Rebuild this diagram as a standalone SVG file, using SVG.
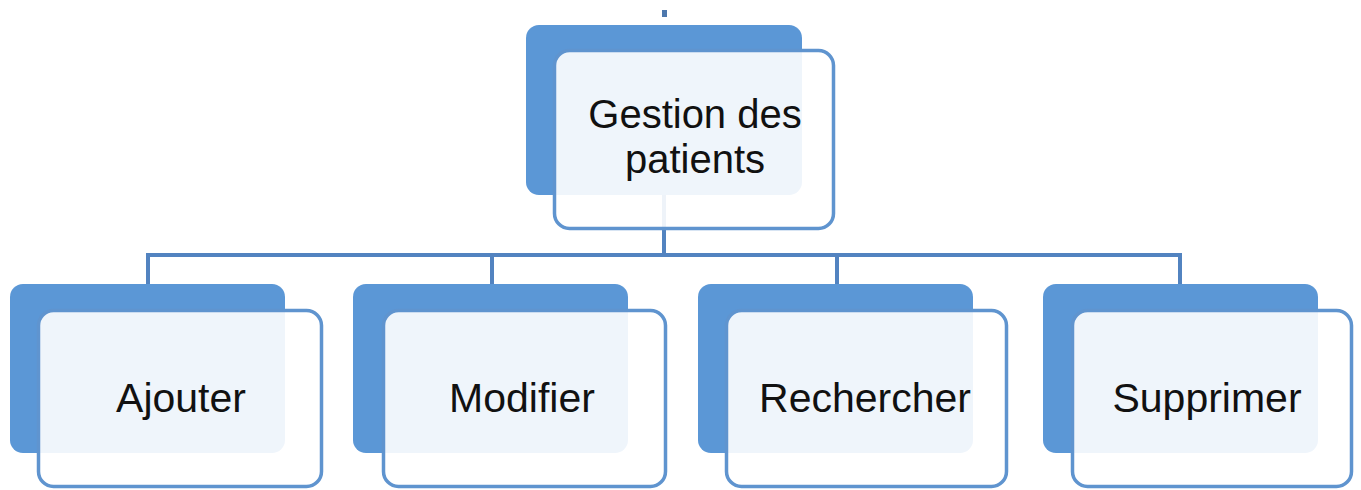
<svg xmlns="http://www.w3.org/2000/svg" width="1361" height="490" viewBox="0 0 1361 490">
<style>
.back{fill:#5b97d6;}
.front{fill:#ffffff;fill-opacity:0.9;stroke:#5f94cf;stroke-width:3.5;}
.lbl{font-family:"Liberation Sans",Arial,sans-serif;font-size:41px;fill:#111111;text-anchor:middle;}
.top{font-size:40px;}
.conn{stroke:#5283c0;stroke-width:4;fill:none;}
</style>
<rect width="1361" height="490" fill="#ffffff"/>
<g id="connectors">
<rect x="662" y="10" width="5" height="7" fill="#4d78ad"/>
<path class="conn" d="M664,195 V255 M146,255 H1182 M148,255 V284 M492,255 V284 M837,255 V284 M1180,255 V284"/>
</g>
<g id="node-gestion">
<rect class="back" x="526" y="25" width="276" height="170" rx="13"/>
<rect class="front" x="554.5" y="50.5" width="279" height="178" rx="15"/>
<text class="lbl top" x="695" y="128">Gestion des</text>
<text class="lbl top" x="695" y="173">patients</text>
</g>
<g id="node-ajouter">
<rect class="back" x="10" y="284" width="275" height="169" rx="13"/>
<rect class="front" x="38.5" y="310.5" width="283" height="176" rx="15"/>
<text class="lbl" x="181" y="412">Ajouter</text>
</g>
<g id="node-modifier">
<rect class="back" x="353" y="284" width="275" height="169" rx="13"/>
<rect class="front" x="383.5" y="310.5" width="282" height="176" rx="15"/>
<text class="lbl" x="522" y="412">Modifier</text>
</g>
<g id="node-rechercher">
<rect class="back" x="698" y="284" width="275" height="169" rx="13"/>
<rect class="front" x="726.5" y="310.5" width="280" height="176" rx="15"/>
<text class="lbl" x="865" y="412">Rechercher</text>
</g>
<g id="node-supprimer">
<rect class="back" x="1043" y="284" width="275" height="169" rx="13"/>
<rect class="front" x="1072.5" y="310.5" width="279" height="176" rx="15"/>
<text class="lbl" x="1207" y="412">Supprimer</text>
</g>
</svg>
